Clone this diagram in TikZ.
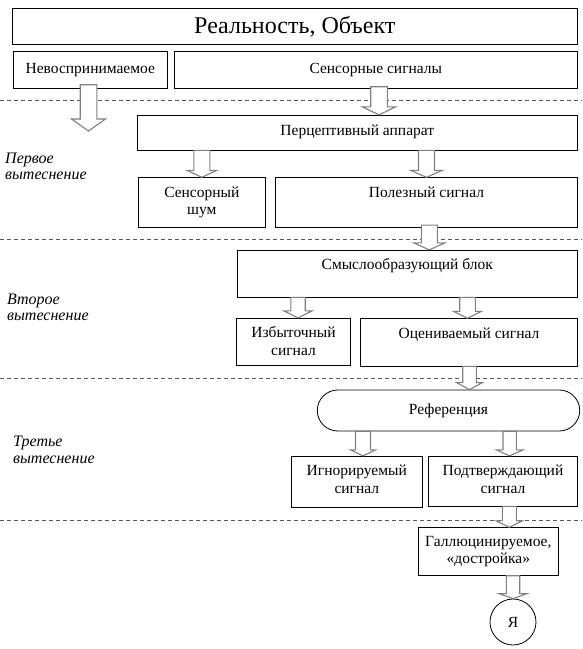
\documentclass[tikz,border=0pt]{standalone}
\usepackage{fontspec}
\setmainfont{Liberation Serif}
\usetikzlibrary{calc}
\newcommand\bodyfont{\fontsize{15.5}{17.7}\selectfont}
\newcommand\bxtext[4]{\parbox[c][#2pt][t]{#1pt}{\centering\rule{0pt}{#3pt}#4}}
\newcommand\barrow[6]{\draw[blockarr] let \p1=(#1), \p2=(#2), \p3=(#3) in
  ({\x1-#4pt},\y2) -- ({\x1+#4pt},\y2) -- ({\x1+#4pt},{\y3+#6pt}) -- ({\x1+#5pt},{\y3+#6pt})
  -- (\x1,\y3) -- ({\x1-#5pt},{\y3+#6pt}) -- ({\x1-#4pt},{\y3+#6pt}) -- cycle;}
\tikzset{
  box/.style={draw, line width=0.8pt, inner sep=0pt, fill=white, font=\bodyfont},
  blockarr/.style={draw=black!50, line width=1.1pt, fill=white, line join=miter},
  dashline/.style={draw=black!65, line width=0.8pt, dash pattern=on 4.3pt off 2.7pt},
  lbl/.style={align=left, inner sep=0pt, font=\fontsize{16}{16.7}\selectfont\itshape},
  refbox/.style={draw, line width=0.8pt, fill=white, rounded corners=20.5pt, minimum width=262.4pt, minimum height=41pt, inner sep=0pt, font=\bodyfont},
  yabox/.style={draw, line width=0.8pt, circle, minimum size=46pt, inner sep=0pt, font=\bodyfont}
}
\begin{document}
\begin{tikzpicture}[x=1pt,y=-1pt]
\useasboundingbox (0,0) rectangle (582,649);
% separators
\draw[dashline] (0,100) -- (582,100);
\draw[dashline] (0,239.3) -- (582,239.3);
\draw[dashline] (0,378.3) -- (582,378.3);
\draw[dashline] (0,520) -- (582,520);
% boxes
\node[box] (title) at (294.8,26.3) {\parbox[c][36pt][t]{565pt}{\centering\fontsize{24}{28}\selectfont\rule{0pt}{25.5pt}Реальность, Объект}};
\node[box] (nevos) at (90.3,70) {\bxtext{154}{36.6}{22}{Невоспринимаемое}};
\node[box] (sens) at (375.8,70) {\bxtext{403}{36.6}{22}{Сенсорные сигналы}};
\node[box] (percep) at (357.3,132.65) {\bxtext{440}{34.7}{20.5}{Перцептивный аппарат}};
\node[box] (shum) at (201.8,202.7) {\bxtext{127}{50}{19.5}{Сенсорный\\шум}};
\node[box] (polez) at (426.5,202.7) {\bxtext{301.6}{50}{19.5}{Полезный сигнал}};
\node[box] (smysl) at (407.3,273.65) {\bxtext{340}{46.7}{19.5}{Смыслообразующий блок}};
\node[box] (izb) at (293.5,341.65) {\bxtext{114.4}{46.7}{19.5}{Избыточный\\сигнал}};
\node[box] (ocen) at (469,342.35) {\bxtext{216.6}{47.3}{19.5}{Оцениваемый сигнал}};
\node[refbox] (ref) at (448.5,410.5) {Референция};
\node[box] (ignor) at (356.8,481.65) {\bxtext{131}{50.7}{19.5}{Игнорируемый\\сигнал}};
\node[box] (podtv) at (503,481.15) {\bxtext{148.6}{49.7}{19}{Подтверждающий\\сигнал}};
\node[box] (gall) at (488.35,551.5) {\bxtext{139.3}{47.6}{18.5}{Галлюцинируемое,\\«достройка»}};
\node[yabox] (ya) at (513,622) {Я};
% side labels
\node[lbl, anchor=north west] (l1) at (5,152.5) {Первое\\вытеснение};
\node[lbl, anchor=north west] (l2) at (7,293.5) {Второе\\вытеснение};
\node[lbl, anchor=north west] (l3) at (13,436) {Третье\\вытеснение};
% arrows
\coordinate (a1end) at (88.5,131);
\barrow{[xshift=-1.8pt]nevos.south}{[yshift=4pt]nevos.south}{a1end}{8.3}{17}{12}
\barrow{[xshift=3.2pt]sens.south}{[yshift=2pt]sens.south}{percep.north}{8.3}{16.5}{8}
\barrow{shum.north}{percep.south}{shum.north}{8}{15}{7}
\barrow{polez.north}{percep.south}{polez.north}{8}{16}{7}
\barrow{[xshift=2.8pt]polez.south}{[yshift=3pt]polez.south}{smysl.north}{8}{15.5}{7}
\barrow{[xshift=4.5pt]izb.north}{smysl.south}{izb.north}{7.2}{14}{7}
\barrow{[xshift=-1.5pt]ocen.north}{smysl.south}{ocen.north}{7.8}{14}{7}
\barrow{[xshift=0.5pt]ocen.south}{ocen.south}{ref.north}{6.8}{13}{7}
\barrow{[xshift=6.2pt]ignor.north}{ref.south}{ignor.north}{7.5}{12.5}{6}
\barrow{[xshift=6.7pt]podtv.north}{ref.south}{podtv.north}{6.7}{13.3}{6}
\barrow{[xshift=6.3pt]podtv.south}{podtv.south}{gall.north}{7}{13.3}{6.5}
\barrow{ya.north}{gall.south}{ya.north}{6.7}{14}{5}
\end{tikzpicture}
\end{document}
